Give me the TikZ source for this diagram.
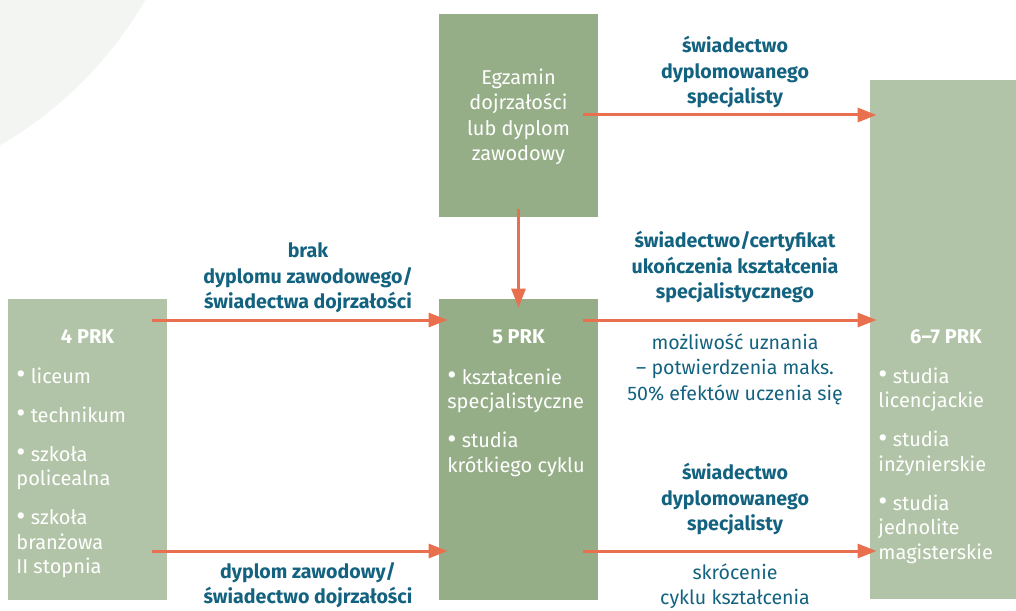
\documentclass[tikz,border=0pt]{standalone}
\usepackage{fontspec}
\setmainfont{Fira Sans}
\usetikzlibrary{arrows.meta}

\definecolor{boxlight}{HTML}{B2C4A7}
\definecolor{boxdark}{HTML}{96AE87}
\definecolor{arrowred}{HTML}{E8704F}
\definecolor{labelblue}{HTML}{13627F}
\definecolor{bgshade}{HTML}{F3F5F2}

\newcommand{\prkbullet}{{\fontsize{14}{12}\selectfont\raisebox{-0.4pt}{•}}}

\tikzset{
  lightbox/.style={rectangle, fill=boxlight, inner sep=0pt},
  darkbox/.style={rectangle, fill=boxdark, inner sep=0pt},
  arr/.style={draw=arrowred, line width=1.5pt, -{Triangle[length=9.5pt,width=7pt]}},
  prktitle/.style={text=white, inner sep=0pt, font=\fontsize{10}{12.5}\selectfont\bfseries},
  boxlist/.style={text=white, align=left, anchor=north west, inner sep=0pt, font=\fontsize{10}{12.25}\selectfont},
  lbl/.style={text=labelblue, align=center, inner sep=0pt, font=\fontsize{9.8}{12.75}\selectfont\bfseries},
  note/.style={text=labelblue, align=center, inner sep=0pt, font=\fontsize{9.8}{12.75}\selectfont}
}

\begin{document}
\begin{tikzpicture}[x=0.5pt,y=-0.5pt]
\useasboundingbox (0,0) rectangle (1016,610);
\begin{scope}
\clip (0,0) rectangle (1016,610);
\fill[bgshade] (-200,-200) circle[radius=399];
\end{scope}
% boxes
\node[lightbox, minimum width=79.5pt, minimum height=150.5pt] (prk4) at (87.5,449.5) {};
\node[darkbox, minimum width=79.5pt, minimum height=101.5pt] (egz) at (518.5,115.5) {};
\node[darkbox, minimum width=79.5pt, minimum height=150.5pt] (prk5) at (518.5,449.5) {};
\node[lightbox, minimum width=73pt, minimum height=259.5pt] (prk67) at (943,339.5) {};
% box texts
\node[prktitle] (t4) at (87.5,337) {4 PRK};
\node[boxlist] (l4) at (16,367) {\prkbullet{} liceum\\[7.25pt]\prkbullet{} technikum\\[7.25pt]\prkbullet{} szkoła\\policealna\\[7.25pt]\prkbullet{} szkoła\\branżowa\\II stopnia};
\node[text=white, align=center, inner sep=0pt, font=\fontsize{10}{12.75}\selectfont] (egztxt) at (518.5,117) {Egzamin\\dojrzałości\\lub dyplom\\zawodowy};
\node[prktitle] (t5) at (518.5,337) {5 PRK};
\node[boxlist] (l5) at (447,368) {\prkbullet{} kształcenie\\specjalistyczne\\[7.25pt]\prkbullet{} studia\\krótkiego cyklu};
\node[prktitle] (t67) at (946,337) {6–7 PRK};
\node[boxlist] (l67) at (878,367) {\prkbullet{} studia\\licencjackie\\[7.25pt]\prkbullet{} studia\\inżynierskie\\[7.25pt]\prkbullet{} studia\\jednolite\\magisterskie};
% arrows
\coordinate (toprow) at (0,115);
\coordinate (midrow) at (0,320);
\coordinate (lowrow) at (0,551);
\draw[arr, shorten <=-7.5pt, shorten >=-3.5pt] (egz.east |- toprow) -- (prk67.west |- toprow);
\draw[arr, shorten <=-4pt, shorten >=-4.5pt] (egz.south) -- (prk5.north);
\draw[arr, shorten <=-7.5pt, shorten >=-4.5pt] (prk4.east |- midrow) -- (prk5.west |- midrow);
\draw[arr, shorten <=-7.5pt, shorten >=-4.5pt] (prk4.east |- lowrow) -- (prk5.west |- lowrow);
\draw[arr, shorten <=-7.5pt, shorten >=-3.5pt] (prk5.east |- midrow) -- (prk67.west |- midrow);
\draw[arr, shorten <=-7.5pt, shorten >=-3.5pt] (prk5.east |- lowrow) -- (prk67.west |- lowrow);
% labels
\node[lbl] (a1) at (735,72) {świadectwo\\dyplomowanego\\specjalisty};
\node[lbl] (a2) at (308,278) {brak\\dyplomu zawodowego/\\świadectwa dojrzałości};
\node[lbl] (a3) at (308,585) {dyplom zawodowy/\\świadectwo dojrzałości};
\node[lbl] (a4) at (735,267) {świadectwo/certyfikat\\ukończenia kształcenia\\specjalistycznego};
\node[note] (n1) at (735,369) {możliwość uznania\\– potwierdzenia maks.\\50\% efektów uczenia się};
\node[lbl] (a5) at (735,499) {świadectwo\\dyplomowanego\\specjalisty};
\node[note] (n2) at (735,586) {skrócenie\\cyklu kształcenia};
\end{tikzpicture}
\end{document}
